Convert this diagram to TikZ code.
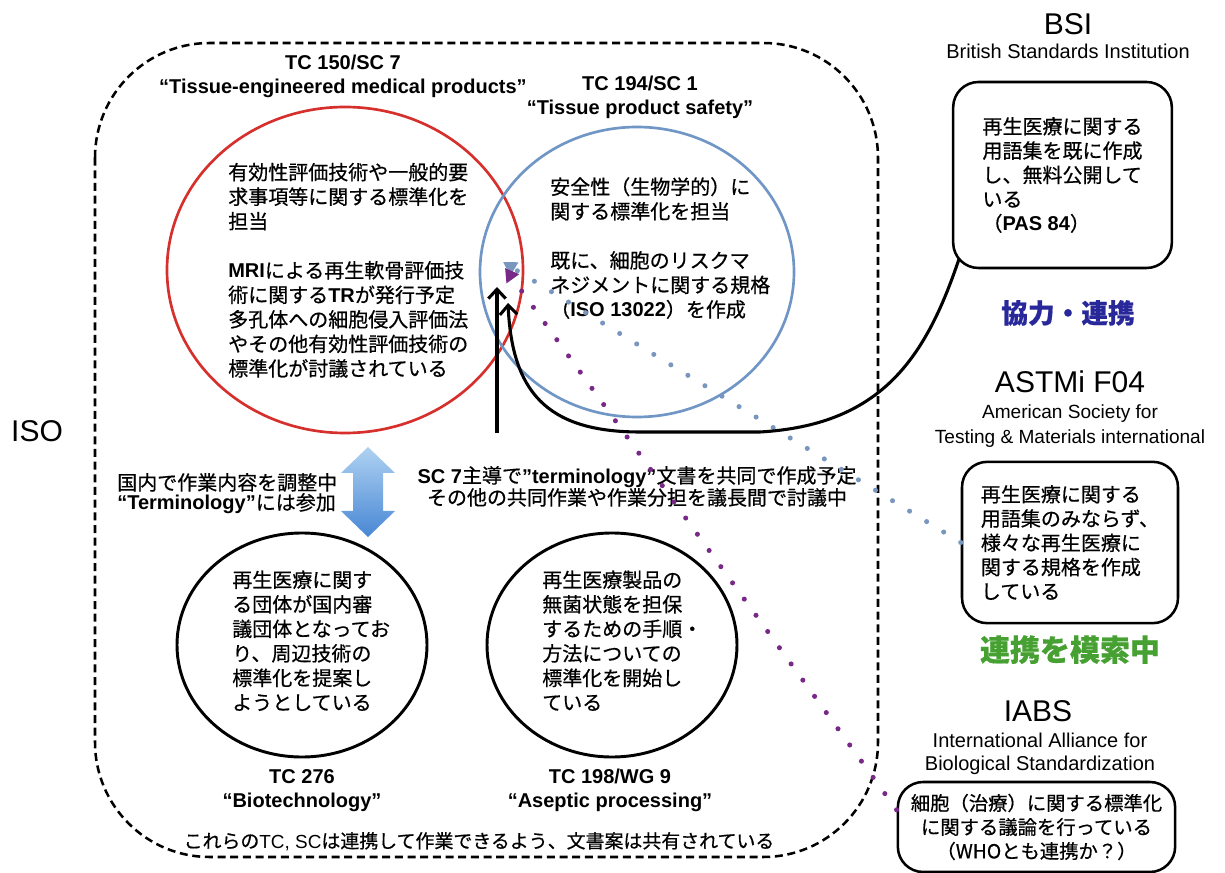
\documentclass[tikz,border=0pt]{standalone}
\usepackage{fontspec}
\setmainfont{Liberation Sans}
\newfontfamily\jp{Noto Sans CJK JP}[FakeBold=0.6]
\usetikzlibrary{arrows.meta}
\newcommand\entxt[1]{{\rmfamily\bfseries #1}}
\definecolor{tcred}{RGB}{214,48,45}
\definecolor{tcblue}{RGB}{112,150,198}
\definecolor{dotblue}{RGB}{120,150,190}
\definecolor{dotpurple}{RGB}{120,40,135}
\definecolor{coopblue}{RGB}{40,40,155}
\definecolor{seekgreen}{RGB}{70,160,50}
\definecolor{arrowlight}{RGB}{175,210,242}
\definecolor{arrowdark}{RGB}{72,135,212}

\begin{document}
\begin{tikzpicture}[x=0.75pt,y=0.75pt,yscale=-1,xscale=1,
  jtext/.style={inner sep=0pt,anchor=base west,align=left,font=\jp\fontsize{15}{18.4}\selectfont},
  head/.style={inner sep=0pt,anchor=base,align=center,font=\bfseries\fontsize{15}{18}\selectfont},
  org/.style={inner sep=0pt,anchor=base,font=\fontsize{22.5}{27}\selectfont},
  orgsub/.style={inner sep=0pt,anchor=base,align=center,font=\fontsize{15}{18}\selectfont},
  partner/.style={draw,line width=1.9pt,rounded corners=19pt,inner sep=0pt,align=left,font=\jp\fontsize{15}{18.2}\selectfont},
  dotline/.style={line width=3.8pt,line cap=round,dash pattern=on 0pt off 15pt},
  bigarrow/.style={line width=2.3pt,-{Straight Barb[length=7pt,width=13pt]}}]
\useasboundingbox (0,0) rectangle (1225,873);
%Shape: Rounded Rect (ISO)
\draw [line width=1.9pt,dash pattern=on 6pt off 3.5pt,rounded corners=86pt] (95,43) rectangle (878,857);
\node [org] (iso) at (37,442) {ISO};
%Shape: Ellipse
\draw [color=tcred,line width=2pt] (345,270) ellipse (178 and 163);
%Shape: Ellipse
\draw [color=tcblue,line width=2pt] (637,272) ellipse (157 and 145);
%Shape: Ellipse
\draw [line width=2.2pt] (302,645) ellipse (125 and 112);
%Shape: Ellipse
\draw [line width=2.2pt] (612,645) ellipse (125 and 112);
%Committee titles (anchored on last line)
\node [head] (tc150) at (343,94) {TC 150/SC 7\\“Tissue-engineered medical products”};
\node [head] (tc194) at (640,115) {TC 194/SC 1\\“Tissue product safety”};
\node [head] (tc276) at (302,807) {TC 276\\“Biotechnology”};
\node [head] (tc198) at (610,807) {TC 198/WG 9\\“Aseptic processing”};
%Text in circles
\node [jtext] (tc150txt) at (228,376) {有効性評価技術や一般的要\\求事項等に関する標準化を\\担当\\[18.4pt]\entxt{MRI}による再生軟骨評価技\\術に関する\entxt{TR}が発行予定\\多孔体への細胞侵入評価法\\やその他有効性評価技術の\\標準化が討議されている};
\node [jtext] (tc194txt) at (550,317) {安全性（生物学的）に\\関する標準化を担当\\[18.4pt]既に、細胞のリスクマ\\ネジメントに関する規格\\（\entxt{ISO 13022}）を作成};
\node [jtext] (tc276txt) at (232,710) {再生医療に関す\\る団体が国内審\\議団体となってお\\り、周辺技術の\\標準化を提案し\\ようとしている};
\node [jtext] (tc198txt) at (542,710) {再生医療製品の\\無菌状態を担保\\するための手順・\\方法についての\\標準化を開始し\\ている};
%Notes
\node [jtext,font=\jp\fontsize{15}{15}\selectfont] (domestic) at (117,510) {国内で作業内容を調整中\\\entxt{“Terminology”}には参加};
\node [jtext,anchor=base,align=center,font=\jp\fontsize{15}{16.5}\selectfont] (joint) at (637,505) {\entxt{SC 7}主導で\entxt{”terminology”}文書を共同で作成予定\\その他の共同作業や作業分担を議長間で討議中};
\node [jtext,anchor=base,font=\jp\fontsize{14.2}{16}\selectfont] (shared) at (479,848) {これらの{\rmfamily TC, SC}は連携して作業できるよう、文書案は共有されている};
%Shape: Up Down Arrow
\shade [top color=arrowlight,bottom color=arrowdark] (368,447) -- (395,473) -- (383,473) -- (383,511) -- (395,511) -- (368,537) -- (341,511) -- (353,511) -- (353,473) -- (341,473) -- cycle;
%Outside bodies
\node [org] (bsi) at (1068,35) {BSI};
\node [orgsub] (bsiname) at (1068,59) {British Standards Institution};
\node [partner,minimum width=164pt,minimum height=139.5pt] (bsibox) at (1062.5,175) {再生医療に関する\\用語集を既に作成\\し、無料公開して\\いる\\（\entxt{PAS 84}）};
\node [anchor=base,inner sep=0pt,text=coopblue,font=\jp\bfseries\fontsize{20}{24}\selectfont] (coop) at (1068,323) {協力・連携};
\node [org] (astm) at (1070,393) {ASTMi F04};
\node [orgsub,font=\fontsize{14.3}{18.75}\selectfont] (astmname) at (1070,444) {American Society for\\Testing \& Materials international};
\node [partner,minimum width=162pt,minimum height=121pt] (astmbox) at (1070,542.5) {再生医療に関する\\用語集のみならず、\\様々な再生医療に\\関する規格を作成\\している};
\node [anchor=base,inner sep=0pt,text=seekgreen,font=\jp\bfseries\fontsize{22.5}{27}\selectfont] (seek) at (1070,661) {連携を模索中};
\node [org] (iabs) at (1038,721) {IABS};
\node [orgsub,font=\fontsize{15}{17.25}\selectfont] (iabsname) at (1040,770) {International Alliance for\\Biological Standardization};
\node [partner,align=center,minimum width=208pt,minimum height=67.5pt,font=\jp\fontsize{14.5}{18}\selectfont] (iabsbox) at (1036.5,827) {細胞（治療）に関する標準化\\に関する議論を行っている\\（WHOとも連携か？）};
%Arrow ends
\coordinate (vfoot) at (497,433);
\coordinate (vtip) at (497,287);
\coordinate (ctip) at (508,303);
\coordinate (btip) at (503,262);
\coordinate (ptip) at (505,268);
%Dotted Lines
\draw [dotline,color=dotblue,-{Triangle[length=10pt,width=11pt]}] (astmbox.west) -- (btip);
\draw [dotline,color=dotpurple,-{Triangle[length=10pt,width=11pt]}] (iabsbox.173) -- (ptip);
%Straight Lines
\draw [bigarrow] (vfoot) -- (vtip);
%Curve Lines
\draw [bigarrow] ([shift={(7,-10)}]bsibox.south west) .. controls (925,360) and (880,425) .. (760,432) -- (640,432) .. controls (545,432) and (512,390) .. (ctip);
\end{tikzpicture}
\end{document}
